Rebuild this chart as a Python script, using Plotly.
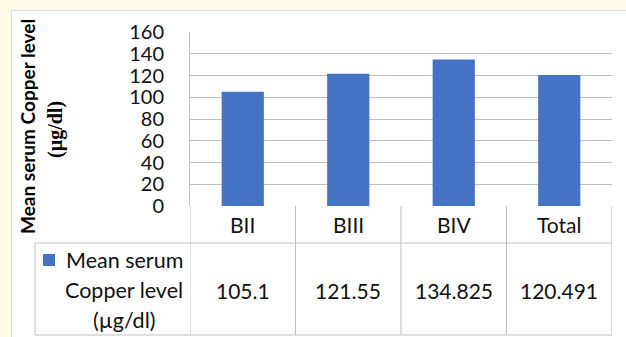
import plotly.graph_objects as go

# ---- data ----
categories = ["BII", "BIII", "BIV", "Total"]
values = [105.1, 121.55, 134.825, 120.491]
value_labels = ["105.1", "121.55", "134.825", "120.491"]
series_lines = ["Mean serum", "Copper level", "(µg/dl)"]
y_ticks = [0, 20, 40, 60, 80, 100, 120, 140, 160]
y_title_1 = "Mean serum Copper level"
y_title_2 = "(µg/dl)"

# ---- geometry (pixels) ----
W, H = 626, 337
PL, PR, PT, PB = 190, 612, 32, 206   # plot area
pw, ph = PR - PL, PB - PT

def px(x):
    return (x - PL) / pw

def py(y):
    return (PB - y) / ph

BAR = "#4472C4"
LINE = "#BFBFBF"
FONT = "Lato"
TXT = "#111"

fig = go.Figure()
fig.add_trace(go.Bar(x=categories, y=values, marker=dict(color=BAR, line=dict(width=0)),
                     width=0.4, showlegend=False, hoverinfo="skip"))

shapes = []
# chart area (white with light border)
shapes.append(dict(type="rect", xref="paper", yref="paper", x0=px(11.5), x1=px(640),
                   y0=py(10.5), y1=py(350), fillcolor="white",
                   line=dict(color="#D9D9D9", width=1), layer="below"))
# table horizontal lines
for yy in (243, 335):
    shapes.append(dict(type="line", xref="paper", yref="paper", x0=px(35), x1=px(PR),
                       y0=py(yy), y1=py(yy), line=dict(color=LINE, width=1)))
# legend cell left border
shapes.append(dict(type="line", xref="paper", yref="paper", x0=px(35), x1=px(35),
                   y0=py(243), y1=py(335), line=dict(color=LINE, width=1)))
# category separators
for k in range(len(categories) + 1):
    shapes.append(dict(type="line", xref="x", yref="paper", x0=k - 0.5, x1=k - 0.5,
                       y0=py(206), y1=py(335), line=dict(color=LINE, width=1)))
# legend key
shapes.append(dict(type="rect", xref="paper", yref="paper", x0=px(43), x1=px(55),
                   y0=py(254), y1=py(266), fillcolor=BAR, line=dict(width=0)))

ann = []
for i, c in enumerate(categories):
    ann.append(dict(x=i, y=py(224), xref="x", yref="paper", text=c, showarrow=False,
                    xanchor="center", yanchor="middle", font=dict(family=FONT, size=21, color=TXT)))
    ann.append(dict(x=i, y=py(290), xref="x", yref="paper", text=value_labels[i], showarrow=False,
                    xanchor="center", yanchor="middle", font=dict(family=FONT, size=21, color=TXT)))
for j, t in enumerate(series_lines):
    ann.append(dict(x=px(124), y=py(260 + 30 * j), xref="paper", yref="paper", text=t,
                    showarrow=False, xanchor="center", yanchor="middle",
                    font=dict(family=FONT, size=21.5, color=TXT)))
# y-axis title
ann.append(dict(x=px(28), y=py(127), xref="paper", yref="paper", text="<b>" + y_title_1 + "</b>",
                textangle=-90, showarrow=False, xanchor="center", yanchor="middle",
                font=dict(family=FONT, size=19, color="black")))
ann.append(dict(x=px(55), y=py(130), xref="paper", yref="paper", text="<b>" + y_title_2 + "</b>",
                textangle=-90, showarrow=False, xanchor="center", yanchor="middle",
                font=dict(family="Liberation Serif", size=20, color="black")))

fig.update_layout(
    width=W, height=H,
    margin=dict(l=PL, r=W - PR, t=PT, b=H - PB, pad=0),
    paper_bgcolor="#FFFBE6", plot_bgcolor="white",
    shapes=shapes, annotations=ann,
    xaxis=dict(type="category", range=[-0.5, len(categories) - 0.5], showticklabels=False,
               showgrid=False, zeroline=False, showline=False, fixedrange=True),
    yaxis=dict(range=[0, 160], tickvals=y_ticks, ticktext=[str(v) for v in y_ticks],
               showgrid=True, gridcolor=LINE, gridwidth=1, zeroline=False,
               showline=True, linecolor=LINE, linewidth=1, ticks="",
               ticklabelstandoff=21, tickfont=dict(family=FONT, size=20, color=TXT)),
    bargap=0.6, showlegend=False,
)
fig.write_html("out.html")
